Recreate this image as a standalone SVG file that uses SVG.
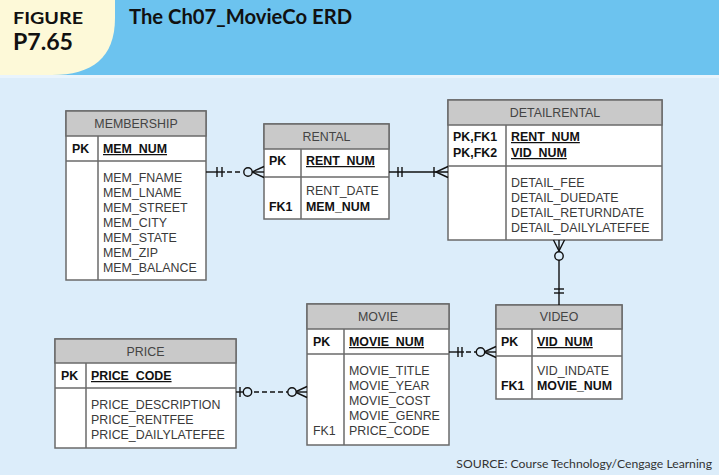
<svg xmlns="http://www.w3.org/2000/svg" width="719" height="475" viewBox="0 0 719 475">
<style>
.box{fill:#ffffff;stroke:#6a6a6a;stroke-width:1.5}
.hdr{fill:#c9c9c9;stroke:#6a6a6a;stroke-width:1.5}
.div{stroke:#6a6a6a;stroke-width:1.5;fill:none}
.t{font-family:"Liberation Sans",Arial,sans-serif;font-size:12.4px;fill:#3a3a3a}
.h{font-family:"Liberation Sans",Arial,sans-serif;font-size:12.4px;fill:#444;text-anchor:middle}
.b{font-family:"Liberation Sans",Arial,sans-serif;font-size:12.4px;fill:#111;font-weight:bold}
.u{text-decoration:underline}
.ln{stroke:#111;stroke-width:1.4;fill:none}
.dash{stroke-dasharray:5,3}
.cir{stroke:#111;stroke-width:1.4;fill:#dcedfa}
</style>
<rect x="0" y="0" width="719" height="475" fill="#dcedfa"/>
<rect x="0" y="0" width="719" height="75" fill="#6cc3ef"/>
<rect x="0" y="75" width="719" height="3" fill="#e9f4fc"/>
<path d="M0,0 H115 V18 C115,58 92,75 52,75 H0 Z" fill="#fdf9d8"/>
<g id="header" font-family="Lato,'Open Sans',sans-serif" font-weight="bold" fill="#111">
<text x="13" y="24" font-size="17" textLength="70" lengthAdjust="spacingAndGlyphs">FIGURE</text>
<text x="13" y="50" font-size="22" textLength="60" lengthAdjust="spacingAndGlyphs">P7.65</text>
<text x="129" y="24" font-size="20" textLength="223" lengthAdjust="spacingAndGlyphs">The Ch07_MovieCo ERD</text>
</g>
<text x="712" y="468" text-anchor="end" font-family="Lato,'Open Sans',sans-serif" font-size="12.2" fill="#333">SOURCE: Course Technology/Cengage Learning</text>

<g id="membership">
<rect class="box" x="66" y="111" width="140" height="169"/>
<rect class="hdr" x="66" y="111" width="140" height="25"/>
<line class="div" x1="66" y1="161" x2="206" y2="161"/>
<line class="div" x1="98" y1="136" x2="98" y2="280"/>
<text class="h" x="136" y="128">MEMBERSHIP</text>
<text class="b" x="72" y="153">PK</text>
<text class="b u" x="103" y="153">MEM_NUM</text>
<text class="t" x="103" y="182">MEM_FNAME</text>
<text class="t" x="103" y="197">MEM_LNAME</text>
<text class="t" x="103" y="212">MEM_STREET</text>
<text class="t" x="103" y="227">MEM_CITY</text>
<text class="t" x="103" y="242">MEM_STATE</text>
<text class="t" x="103" y="257">MEM_ZIP</text>
<text class="t" x="103" y="272">MEM_BALANCE</text>
</g>

<g id="rental">
<rect class="box" x="264" y="124" width="125" height="95"/>
<rect class="hdr" x="264" y="124" width="125" height="25"/>
<line class="div" x1="264" y1="177" x2="389" y2="177"/>
<line class="div" x1="301" y1="149" x2="301" y2="219"/>
<text class="h" x="326.5" y="141">RENTAL</text>
<text class="b" x="269" y="165">PK</text>
<text class="b u" x="306" y="165">RENT_NUM</text>
<text class="t" x="306" y="195">RENT_DATE</text>
<text class="b" x="269" y="211">FK1</text>
<text class="b" x="306" y="211">MEM_NUM</text>
</g>

<g id="detailrental">
<rect class="box" x="448" y="100" width="214" height="140"/>
<rect class="hdr" x="448" y="100" width="214" height="25"/>
<line class="div" x1="448" y1="166" x2="662" y2="166"/>
<line class="div" x1="506" y1="125" x2="506" y2="240"/>
<text class="h" x="555" y="117">DETAILRENTAL</text>
<text class="b" x="453" y="141">PK,FK1</text>
<text class="b" x="453" y="157">PK,FK2</text>
<text class="b u" x="511" y="141">RENT_NUM</text>
<text class="b u" x="511" y="157">VID_NUM</text>
<text class="t" x="511" y="187">DETAIL_FEE</text>
<text class="t" x="511" y="202">DETAIL_DUEDATE</text>
<text class="t" x="511" y="217">DETAIL_RETURNDATE</text>
<text class="t" x="511" y="232">DETAIL_DAILYLATEFEE</text>
</g>

<g id="video">
<rect class="box" x="496" y="305" width="126" height="94"/>
<rect class="hdr" x="496" y="305" width="126" height="24"/>
<line class="div" x1="496" y1="356" x2="622" y2="356"/>
<line class="div" x1="532" y1="329" x2="532" y2="399"/>
<text class="h" x="559" y="321">VIDEO</text>
<text class="b" x="501" y="346">PK</text>
<text class="b u" x="537" y="346">VID_NUM</text>
<text class="t" x="537" y="375">VID_INDATE</text>
<text class="b" x="501" y="390">FK1</text>
<text class="b" x="537" y="390">MOVIE_NUM</text>
</g>

<g id="movie">
<rect class="box" x="307" y="304" width="142" height="141"/>
<rect class="hdr" x="307" y="304" width="142" height="25"/>
<line class="div" x1="307" y1="354" x2="449" y2="354"/>
<line class="div" x1="344" y1="329" x2="344" y2="445"/>
<text class="h" x="378" y="321">MOVIE</text>
<text class="b" x="313" y="346">PK</text>
<text class="b u" x="349" y="346">MOVIE_NUM</text>
<text class="t" x="349" y="375">MOVIE_TITLE</text>
<text class="t" x="349" y="390">MOVIE_YEAR</text>
<text class="t" x="349" y="405">MOVIE_COST</text>
<text class="t" x="349" y="420">MOVIE_GENRE</text>
<text class="t" x="313" y="435">FK1</text>
<text class="t" x="349" y="435">PRICE_CODE</text>
</g>

<g id="price">
<rect class="box" x="55" y="339" width="181" height="109"/>
<rect class="hdr" x="55" y="339" width="181" height="24"/>
<line class="div" x1="55" y1="388" x2="236" y2="388"/>
<line class="div" x1="86" y1="363" x2="86" y2="448"/>
<text class="h" x="145.5" y="356">PRICE</text>
<text class="b" x="61" y="380">PK</text>
<text class="b u" x="91" y="380">PRICE_CODE</text>
<text class="t" x="91" y="409">PRICE_DESCRIPTION</text>
<text class="t" x="91" y="424">PRICE_RENTFEE</text>
<text class="t" x="91" y="439">PRICE_DAILYLATEFEE</text>
</g>

<g id="connectors">
<!-- MEMBERSHIP - RENTAL -->
<line class="ln" x1="206" y1="172" x2="225" y2="172"/>
<line class="ln dash" x1="227" y1="172" x2="243" y2="172"/>
<line class="ln" x1="217" y1="167" x2="217" y2="177"/>
<line class="ln" x1="222" y1="167" x2="222" y2="177"/>
<line class="ln" x1="252" y1="172" x2="264" y2="172"/>
<path class="ln" d="M264,166.5 L252,172 L264,177.5"/>
<circle class="cir" cx="248" cy="172" r="4.2"/>
<!-- RENTAL - DETAILRENTAL -->
<line class="ln" x1="389" y1="172" x2="448" y2="172"/>
<line class="ln" x1="398" y1="167" x2="398" y2="177"/>
<line class="ln" x1="402" y1="167" x2="402" y2="177"/>
<line class="ln" x1="434" y1="167" x2="434" y2="177"/>
<path class="ln" d="M448,166.5 L436,172 L448,177.5"/>
<!-- DETAILRENTAL - VIDEO -->
<line class="ln" x1="559" y1="240" x2="559" y2="305"/>
<path class="ln" d="M553.5,240 L559,251 L564.5,240"/>
<circle class="cir" cx="559" cy="256" r="4.2"/>
<line class="ln" x1="554" y1="289" x2="564" y2="289"/>
<line class="ln" x1="554" y1="293" x2="564" y2="293"/>
<!-- MOVIE - VIDEO -->
<line class="ln" x1="449" y1="352" x2="464" y2="352"/>
<line class="ln dash" x1="466" y1="352" x2="476" y2="352"/>
<line class="ln" x1="458" y1="347" x2="458" y2="357"/>
<line class="ln" x1="462" y1="347" x2="462" y2="357"/>
<line class="ln" x1="485" y1="352" x2="496" y2="352"/>
<path class="ln" d="M496,346.5 L484,352 L496,357.5"/>
<circle class="cir" cx="480.5" cy="352" r="4.2"/>
<!-- PRICE - MOVIE -->
<line class="ln" x1="236" y1="392" x2="244" y2="392"/>
<line class="ln" x1="240" y1="387" x2="240" y2="397"/>
<circle class="cir" cx="247.5" cy="392" r="4.2"/>
<line class="ln dash" x1="254" y1="392" x2="288" y2="392"/>
<line class="ln" x1="296" y1="392" x2="307" y2="392"/>
<path class="ln" d="M307,386.5 L295,392 L307,397.5"/>
<circle class="cir" cx="292" cy="392" r="4.2"/>
</g>
</svg>
